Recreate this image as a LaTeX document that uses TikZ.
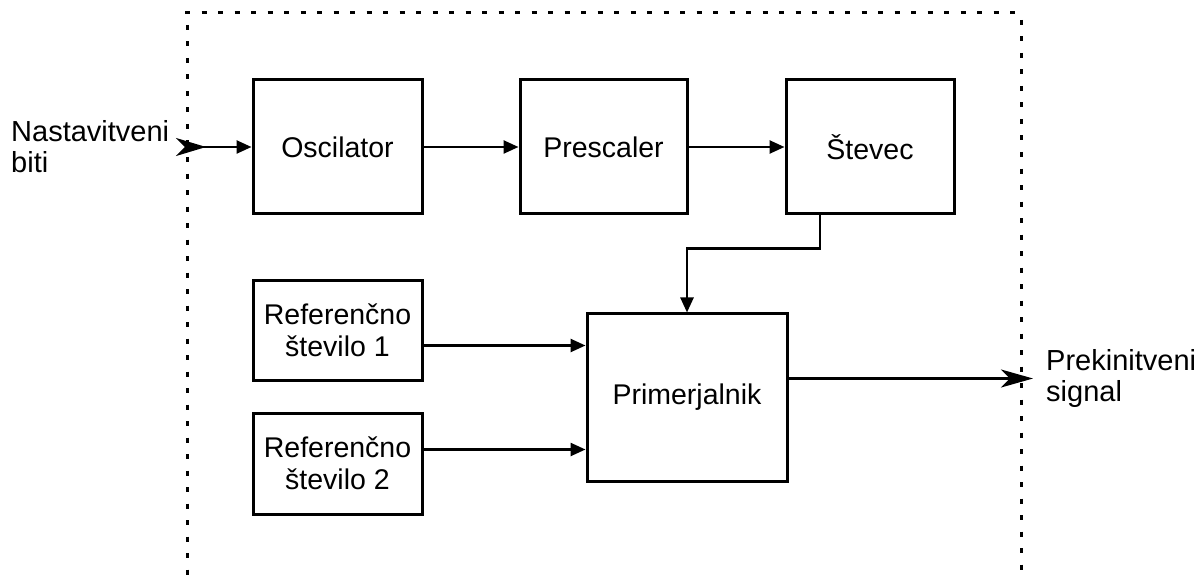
\documentclass[tikz,border=0pt]{standalone}
\usepackage{fontspec}
\setmainfont{Liberation Sans}
\usetikzlibrary{arrows.meta}
\tikzset{
  block/.style={draw=black, line width=3bp, inner sep=0pt, align=center,
    font=\fontsize{28.5bp}{32bp}\selectfont},
  lbl/.style={inner sep=0pt, align=left, font=\fontsize{29bp}{31bp}\selectfont},
  conn/.style={line width=2.5bp, -{Triangle[length=15bp,width=13bp]}},
  border/.style={line width=3bp, dash pattern=on 5bp off 11.5bp}
}
\begin{document}
\begin{tikzpicture}[x=1bp,y=-1bp]
\useasboundingbox (0,0) rectangle (1199,579);

% module boundary
\draw[border] (185,13) -- (1017,13);
\draw[border] (187,25) -- (187,579);
\draw[border] (1021,20) -- (1021,579);

% blocks
\node[block, minimum width=169bp, minimum height=134bp] (osc) at (337.5,147) {Oscilator};
\node[block, minimum width=167bp, minimum height=134bp] (pre) at (603.5,147) {Prescaler};
\node[block, minimum width=168bp, minimum height=134bp] (cnt) at (870,147) {Števec};
\node[block, minimum width=169bp, minimum height=99bp] (ref1) at (337.5,330.5) {Referenčno\\število 1};
\node[block, minimum width=169bp, minimum height=101bp] (ref2) at (337.5,463.5) {Referenčno\\število 2};
\node[block, minimum width=200bp, minimum height=167bp] (cmp) at (687,397.5) {Primerjalnik};

% outer labels
\node[lbl, anchor=west] (intxt) at (11,147) {Nastavitveni\\biti};
\node[lbl, anchor=west] (outtxt) at (1046,379) {Prekinitveni\\signal};

% port coordinates
\coordinate (inp) at (176,147);
\coordinate (outp) at (1033,380);
\coordinate (in1) at ([yshift=-33bp]cmp.north west);
\coordinate (in2) at ([yshift=33bp]cmp.south west);
\coordinate (o1) at ([yshift=-66bp]cmp.north east);

% connectors
\draw[conn, {Stealth[length=30bp,width=18bp,inset=9bp,reversed]}-{Triangle[length=15bp,width=13bp]}] (inp) -- (osc.west);
\draw[conn] (osc.east) -- (pre.west);
\draw[conn] (pre.east) -- (cnt.west);
\draw[conn] ([xshift=-50bp]cnt.south) -- ++(0,33) -| (cmp.north);
\draw[conn] (ref1.east |- in1) -- (in1);
\draw[conn] (ref2.east |- in2) -- (in2);
\draw[line width=2.5bp, -{Stealth[length=32bp,width=18bp,inset=9bp]}] (o1) -- (o1 -| outp);
\end{tikzpicture}
\end{document}
